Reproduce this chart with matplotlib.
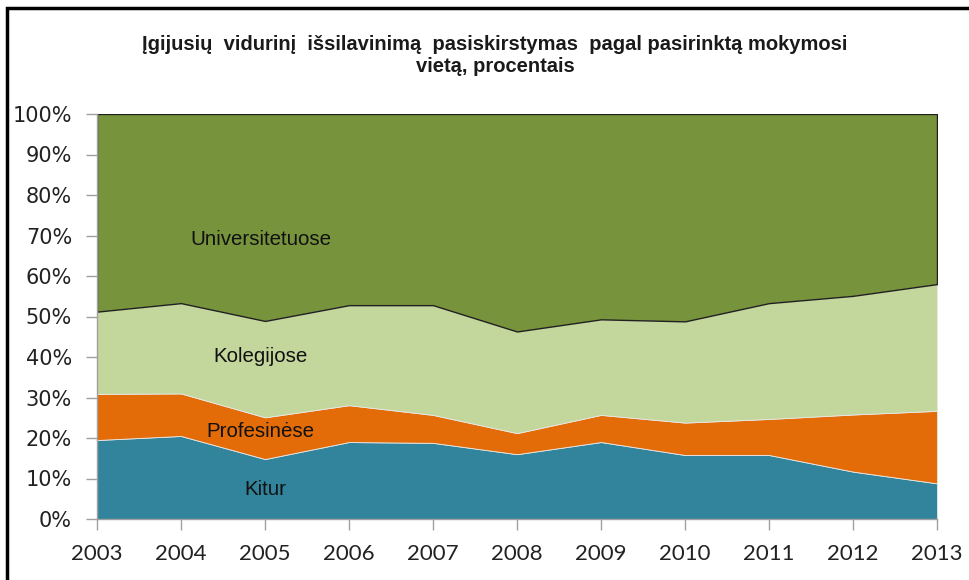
import matplotlib.pyplot as plt
from matplotlib.patches import Rectangle

metai = [2003, 2004, 2005, 2006, 2007, 2008, 2009, 2010, 2011, 2012, 2013]
kitur = [19.5, 20.5, 14.8, 19.0, 18.8, 16.0, 19.0, 15.8, 15.8, 11.7, 8.8]
profesinese = [11.4, 10.5, 10.3, 9.1, 6.9, 5.2, 6.7, 8.0, 8.9, 14.1, 17.9]
kolegijose = [20.3, 22.3, 23.8, 24.7, 27.1, 25.1, 23.6, 25.0, 28.6, 29.3, 31.3]
universitetuose = [48.8, 46.7, 51.1, 47.2, 47.2, 53.7, 50.7, 51.2, 46.7, 44.9, 42.0]

spalvos = ['#31849B', '#E36C09', '#C3D69B', '#77933C']

fig = plt.figure(figsize=(9.69, 5.8), dpi=100)
ax = fig.add_axes([97 / 969, 1 - 519 / 580, 840 / 969, 405 / 580])

polys = ax.stackplot(metai, kitur, profesinese, kolegijose, universitetuose,
                     colors=spalvos, linewidth=0.6, edgecolor='#e8e8e8')
polys[3].set_edgecolor('#202020')
polys[3].set_linewidth(1.0)

ax.set_xlim(2003, 2013)
ax.set_ylim(0, 100)
ax.set_yticks(range(0, 101, 10))
ax.set_yticklabels([f'{v}%' for v in range(0, 101, 10)])
ax.set_xticks(metai)
ax.set_xticklabels([str(m) for m in metai])

for s in ['top', 'right']:
    ax.spines[s].set_visible(False)
for s in ['left', 'bottom']:
    ax.spines[s].set_color('#a0a0a0')
    ax.spines[s].set_linewidth(1)
ax.tick_params(axis='both', colors='#a0a0a0', length=8, width=1, labelcolor='#222222')
ax.tick_params(axis='y', labelsize=15, pad=10)
ax.tick_params(axis='x', labelsize=16, pad=10)
for lab in ax.get_xticklabels():
    lab.set_family('Lato')
for lab in ax.get_yticklabels():
    lab.set_family('DejaVu Sans')

# zymes plotuose
ax.text(2004.95, 68.9, 'Universitetuose', ha='center', va='center', fontsize=14.8, family='Liberation Sans', color='#111111')
ax.text(2004.95, 40.2, 'Kolegijose', ha='center', va='center', fontsize=14.8, family='Liberation Sans', color='#111111')
ax.text(2004.95, 21.5, 'Profesinėse', ha='center', va='center', fontsize=14.8, family='Liberation Sans', color='#111111')
ax.text(2005, 7.2, 'Kitur', ha='center', va='center', fontsize=14.8, family='Liberation Sans', color='#111111')

fig.text(495 / 969, 1 - 56 / 580,
         'Įgijusių  vidurinį  išsilavinimą  pasiskirstymas  pagal pasirinktą mokymosi\nvietą, procentais',
         ha='center', va='center', fontsize=14.5, fontweight='bold', family='Liberation Sans',
         linespacing=1.2, color='#1a1a1a')

# remelis
fig.patches.append(Rectangle((7 / 969, -0.1), 1.2, 1 - 8 / 580 + 0.1, transform=fig.transFigure,
                             fill=False, edgecolor='black', linewidth=2.5))

fig.savefig('out.png', dpi=100)
